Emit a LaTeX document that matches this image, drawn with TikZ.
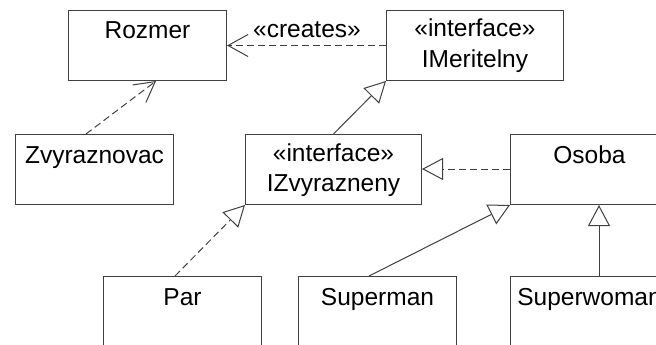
\documentclass[tikz,border=0pt]{standalone}
\usepackage{fontspec}
\setmainfont{Liberation Sans}
\usetikzlibrary{arrows.meta,calc}
\begin{document}
\begin{tikzpicture}[x=1pt,y=-1pt,
  cls/.style={draw=black!75, line width=1pt, fill=white, inner sep=0pt, anchor=north west, minimum height=70pt},
  tallcls/.style={cls, minimum height=100pt},
  txt/.style={anchor=base, inner sep=0pt, font=\fontsize{24.5}{29}\selectfont},
  conn/.style={draw=black!75, line width=1pt},
  dep/.style={conn, dash pattern=on 7pt off 4pt},
  opentip/.style={-{Straight Barb[length=20pt,width=22pt,line width=1pt]}},
  gentip/.style={-{Triangle[open,length=21pt,width=22pt,line width=1pt,fill=white]}}
]
\clip (0,0) rectangle (656,345);
\fill[white] (0,0) rectangle (656,345);

% boxes
\node[cls, minimum width=158pt] (rozmer) at (68,10) {};
\node[cls, minimum width=177pt] (imer) at (386,10) {};
\node[cls, minimum width=158pt] (zvyr) at (15,134) {};
\node[cls, minimum width=176pt] (izvy) at (245,134) {};
\node[cls, minimum width=158pt] (osoba) at (510,134) {};
\node[tallcls, minimum width=158pt] (par) at (103,276) {};
\node[tallcls, minimum width=158pt] (superman) at (298,276) {};
\node[tallcls, minimum width=158pt] (superwoman) at (510,276) {};

% texts
\node[txt] (rozmerT) at ([yshift=-29pt]rozmer.north) {Rozmer};
\node[txt] (imerS) at ([yshift=-27pt]imer.north) {«interface»};
\node[txt] (imerT) at ([yshift=-57pt]imer.north) {IMeritelny};
\node[txt] (zvyrT) at ([yshift=-29pt]zvyr.north) {Zvyraznovac};
\node[txt] (izvyS) at ([yshift=-27pt]izvy.north) {«interface»};
\node[txt] (izvyT) at ([yshift=-57pt]izvy.north) {IZvyrazneny};
\node[txt] (osobaT) at ([yshift=-29pt]osoba.north) {Osoba};
\node[txt] (parT) at ([yshift=-29pt]par.north) {Par};
\node[txt] (supermanT) at ([yshift=-29pt]superman.north) {Superman};
\node[txt] (superwomanT) at ([yshift=-29pt]superwoman.north) {Superwoman};

% connectors
\draw[dep, opentip] (imer.west) -- (rozmer.east);
\node[txt] (creates) at (307,38) {«creates»};
\draw[dep, opentip] ($(zvyr.north west)+(71,0)$) -- ($(rozmer.south west)+(88,0)$);
\draw[conn, gentip] (izvy.north) -- (imer.south west);
\draw[dep, gentip] (osoba.west |- 0,169) -- (izvy.east |- 0,169);
\draw[dep, gentip] ($(par.north west)+(72,0)$) -- (izvy.south west);
\draw[conn, gentip] ($(superman.north west)+(71,0)$) -- (osoba.south west);
\draw[conn, gentip] ($(superwoman.north west)+(89,0)$) -- ($(osoba.south west)+(89,0)$);
\end{tikzpicture}
\end{document}
